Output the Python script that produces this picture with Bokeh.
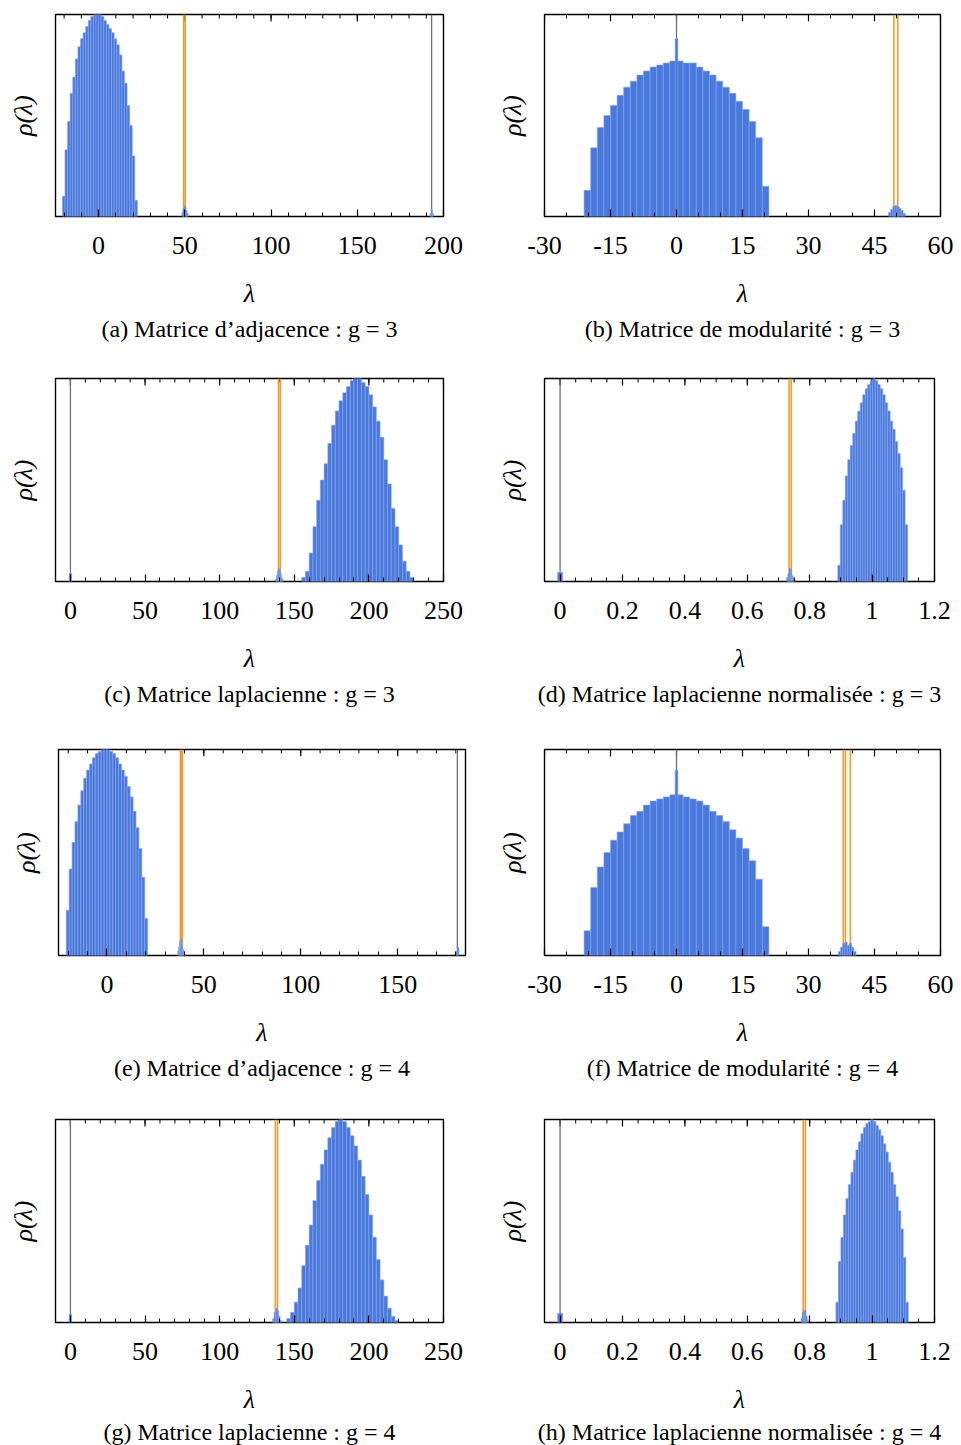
import numpy as np
from bokeh.plotting import figure
from bokeh.models import Range1d, FixedTicker, LinearAxis, Title, CustomJSTickFormatter
from bokeh.layouts import column, row
from bokeh.embed import file_html
from bokeh.resources import INLINE

# ------------------------------------------------------------------ data
# (a) adjacency, g = 3
A_CAPTION = "(a) Matrice d’adjacence : g = 3"
A_XRANGE = (-25, 200)
A_TICKS = [0, 50, 100, 150, 200]
A_BULK_RANGE = (-21.0, 22.5)
A_BULK = [0.10, 0.33, 0.47, 0.61, 0.69, 0.78, 0.84, 0.88, 0.91, 0.94, 0.97, 0.99, 1.0, 1.0, 1.0,
          0.99, 0.97, 0.95, 0.93, 0.91, 0.88, 0.85, 0.80, 0.72, 0.66, 0.55, 0.45, 0.30, 0.08]
A_BUMP_RANGE = (48.3, 51.9)
A_BUMP = [0.02, 0.04, 0.055, 0.05, 0.03, 0.015]
A_TOP_RANGE = (192.3, 194.1)
A_TOP = [0.015, 0.035, 0.015]
A_ORANGE = [49.3, 50.2]
A_GRAY = [193.1]

# (b) modularity, g = 3
B_CAPTION = "(b) Matrice de modularité : g = 3"
B_XRANGE = (-30, 60)
B_TICKS = [-30, -15, 0, 15, 30, 45, 60]
B_BULK_RANGE = (-21.0, 21.0)
B_BULK = [0.13, 0.34, 0.44, 0.50, 0.55, 0.60, 0.64, 0.67, 0.70, 0.72, 0.74, 0.75, 0.76, 0.77,
          0.77, 0.76, 0.76, 0.74, 0.72, 0.70, 0.67, 0.64, 0.61, 0.57, 0.53, 0.47, 0.39, 0.15]
B_SPIKE_RANGE = (-0.3, 0.3)
B_SPIKE = [0.88]
B_BUMP_RANGE = (48.2, 52.0)
B_BUMP = [0.02, 0.035, 0.05, 0.055, 0.05, 0.04, 0.03, 0.015]
B_ORANGE = [49.4, 50.3]
B_GRAY = [0.0]

# (c) laplacian, g = 3
C_CAPTION = "(c) Matrice laplacienne : g = 3"
C_XRANGE = (-10, 250)
C_TICKS = [0, 50, 100, 150, 200, 250]
C_BULK_RANGE = (155.0, 230.0)
C_BULK = [0.02, 0.05, 0.14, 0.27, 0.40, 0.50, 0.58, 0.68, 0.77, 0.84, 0.89, 0.93, 0.96, 0.99, 1.0,
          1.0, 0.98, 0.96, 0.92, 0.86, 0.79, 0.71, 0.60, 0.48, 0.36, 0.27, 0.18, 0.10, 0.05, 0.02]
C_BUMP_RANGE = (137.4, 142.6)
C_BUMP = [0.01, 0.03, 0.05, 0.065, 0.06, 0.04, 0.02, 0.01]
C_ZERO_RANGE = (-0.8, 0.8)
C_ZERO = [0.04]
C_ORANGE = [139.4, 140.6]
C_GRAY = [0.0]

# (d) normalised laplacian, g = 3
D_CAPTION = "(d) Matrice laplacienne normalisée : g = 3"
D_XRANGE = (-0.05, 1.2)
D_TICKS = [0, 0.2, 0.4, 0.6, 0.8, 1, 1.2]
D_BULK_RANGE = (0.890, 1.114)
D_BULK = [0.08, 0.28, 0.40, 0.52, 0.60, 0.67, 0.73, 0.79, 0.84, 0.88, 0.92, 0.95, 0.97, 0.99,
          1.0, 0.99, 0.97, 0.95, 0.92, 0.88, 0.84, 0.79, 0.75, 0.69, 0.63, 0.56, 0.45, 0.28]
D_BUMP_RANGE = (0.726, 0.754)
D_BUMP = [0.02, 0.04, 0.065, 0.06, 0.03, 0.02, 0.01]
D_ZERO_RANGE = (-0.008, 0.008)
D_ZERO = [0.045]
D_ORANGE = [0.734, 0.741]
D_GRAY = [0.0]

# (e) adjacency, g = 4
E_CAPTION = "(e) Matrice d’adjacence : g = 4"
E_XRANGE = (-25, 185)
E_TICKS = [0, 50, 100, 150]
E_BULK_RANGE = (-21.0, 21.0)
E_BULK = [0.22, 0.42, 0.55, 0.65, 0.73, 0.80, 0.86, 0.90, 0.93, 0.96, 0.98, 0.99, 1.0, 1.0,
          1.0, 0.99, 0.98, 0.96, 0.93, 0.90, 0.87, 0.82, 0.77, 0.70, 0.62, 0.52, 0.38, 0.18]
E_BUMP_RANGE = (36.5, 40.5)
E_BUMP = [0.02, 0.04, 0.07, 0.08, 0.05, 0.03, 0.02, 0.01]
E_TOP_RANGE = (180.0, 181.6)
E_TOP = [0.02, 0.04]
E_ORANGE = [37.9, 38.4, 38.9]
E_GRAY = [180.8]

# (f) modularity, g = 4
F_CAPTION = "(f) Matrice de modularité : g = 4"
F_XRANGE = (-30, 60)
F_TICKS = [-30, -15, 0, 15, 30, 45, 60]
F_BULK_RANGE = (-21.0, 21.0)
F_BULK = [0.12, 0.33, 0.43, 0.50, 0.56, 0.60, 0.64, 0.68, 0.70, 0.73, 0.75, 0.76, 0.77, 0.78,
          0.78, 0.77, 0.76, 0.75, 0.73, 0.70, 0.68, 0.65, 0.61, 0.57, 0.52, 0.46, 0.37, 0.14]
F_SPIKE_RANGE = (-0.3, 0.3)
F_SPIKE = [0.90]
F_BUMP_RANGE = (36.8, 40.8)
F_BUMP = [0.02, 0.04, 0.06, 0.065, 0.05, 0.06, 0.04, 0.02]
F_ORANGE = [37.9, 38.4, 39.5]
F_GRAY = [0.0]

# (g) laplacian, g = 4
G_CAPTION = "(g) Matrice laplacienne : g = 4"
G_XRANGE = (-10, 250)
G_TICKS = [0, 50, 100, 150, 200, 250]
G_BULK_RANGE = (145.0, 220.0)
G_BULK = [0.02, 0.05, 0.10, 0.17, 0.28, 0.38, 0.48, 0.60, 0.70, 0.78, 0.85, 0.91, 0.96, 0.99, 1.0,
          0.99, 0.96, 0.92, 0.87, 0.80, 0.72, 0.63, 0.53, 0.42, 0.31, 0.21, 0.13, 0.07, 0.03, 0.01]
G_BUMP_RANGE = (135.5, 141.5)
G_BUMP = [0.02, 0.05, 0.07, 0.06, 0.03, 0.01]
G_ZERO_RANGE = (-0.8, 0.8)
G_ZERO = [0.04]
G_ORANGE = [137.3, 138.8]
G_GRAY = [0.0]

# (h) normalised laplacian, g = 4
H_CAPTION = "(h) Matrice laplacienne normalisée : g = 4"
H_XRANGE = (-0.05, 1.2)
H_TICKS = [0, 0.2, 0.4, 0.6, 0.8, 1, 1.2]
H_BULK_RANGE = (0.884, 1.116)
H_BULK = [0.10, 0.30, 0.42, 0.53, 0.61, 0.68, 0.74, 0.80, 0.85, 0.89, 0.93, 0.96, 0.98, 0.99, 1.0,
          0.99, 0.97, 0.95, 0.92, 0.88, 0.84, 0.79, 0.74, 0.68, 0.62, 0.55, 0.46, 0.32, 0.10]
H_BUMP_RANGE = (0.772, 0.796)
H_BUMP = [0.02, 0.05, 0.06, 0.06, 0.03, 0.01]
H_ZERO_RANGE = (-0.008, 0.008)
H_ZERO = [0.045]
H_ORANGE = [0.779, 0.786]
H_GRAY = [0.0]

A_MINOR_STEP, B_MINOR_STEP, C_MINOR_STEP, D_MINOR_STEP = 10, 5, 10, 0.05
E_MINOR_STEP, F_MINOR_STEP, G_MINOR_STEP, H_MINOR_STEP = 10, 5, 10, 0.05

# ------------------------------------------------------------------ style
SERIF = "Liberation Serif"
BAR_FILL = "#4a79dd"
BAR_LINE = "#86a4e8"
ORANGE = "#f29b30"
GRAY = "#707070"
MAJOR_LEN = 7
MINOR_LEN = 4


def hist(rng, heights):
    edges = np.linspace(rng[0], rng[1], len(heights) + 1)
    return dict(left=edges[:-1], right=edges[1:], top=list(heights), bottom=[0] * len(heights))


def panel(caption, xr, ticks, step, hists, orange, gray, w, h, bl, br, bt, bb, cap_standoff=6):
    p = figure(width=w, height=h, x_range=Range1d(*xr), y_range=Range1d(0, 1),
               output_backend="svg", toolbar_location=None,
               x_axis_location=None, y_axis_location=None,
               min_border_left=bl, min_border_right=br, min_border_top=bt, min_border_bottom=bb)
    p.xgrid.visible = False
    p.ygrid.visible = False
    p.outline_line_color = "black"
    p.outline_line_width = 1.4
    p.background_fill_color = "white"
    p.border_fill_color = "white"
    frame_h = h - bt - bb

    k0 = int(np.ceil(xr[0] / step - 1e-9))
    k1 = int(np.floor(xr[1] / step + 1e-9))
    minor = [round(k * step, 6) for k in range(k0, k1 + 1)]

    ax = LinearAxis(ticker=FixedTicker(ticks=ticks, minor_ticks=minor))
    ax.axis_line_color = None
    ax.major_tick_in = MAJOR_LEN
    ax.major_tick_out = 0
    ax.minor_tick_in = MINOR_LEN
    ax.minor_tick_out = 0
    ax.major_tick_line_color = "black"
    ax.minor_tick_line_color = "black"
    ax.major_tick_line_width = 1.2
    ax.minor_tick_line_width = 1.0
    ax.formatter = CustomJSTickFormatter(code="return String(tick)")
    ax.major_label_text_font = SERIF
    ax.major_label_text_font_size = "26px"
    ax.major_label_text_color = "black"
    ax.major_label_standoff = 20
    ax.axis_label = "λ"
    ax.axis_label_text_font = SERIF
    ax.axis_label_text_font_style = "italic"
    ax.axis_label_text_font_size = "26px"
    ax.axis_label_text_color = "black"
    ax.axis_label_standoff = 22
    p.add_layout(ax, "below")

    yax = LinearAxis(ticker=FixedTicker(ticks=[]))
    yax.axis_line_color = None
    yax.major_tick_in = 0
    yax.major_tick_out = 0
    yax.minor_tick_in = 0
    yax.minor_tick_out = 0
    yax.major_label_standoff = 0
    yax.axis_label = "ρ(λ)"
    yax.axis_label_text_font = SERIF
    yax.axis_label_text_font_style = "italic"
    yax.axis_label_text_font_size = "26px"
    yax.axis_label_text_color = "black"
    yax.axis_label_standoff = 18
    p.add_layout(yax, "left")

    # mirrored ticks along the top edge of the frame
    p.segment(x0=minor, x1=minor, y0=[1] * len(minor), y1=[1 - MINOR_LEN / frame_h] * len(minor),
              line_color="black", line_width=1.0)
    p.segment(x0=ticks, x1=ticks, y0=[1] * len(ticks), y1=[1 - MAJOR_LEN / frame_h] * len(ticks),
              line_color="black", line_width=1.2)

    p.segment(x0=gray, x1=gray, y0=[0] * len(gray), y1=[1] * len(gray),
              line_color=GRAY, line_width=1.3)
    p.segment(x0=orange, x1=orange, y0=[0] * len(orange), y1=[1] * len(orange),
              line_color=ORANGE, line_width=1.6)
    for rng, hts in hists:
        d = hist(rng, hts)
        p.quad(left=d["left"], right=d["right"], top=d["top"], bottom=d["bottom"],
               fill_color=BAR_FILL, line_color=BAR_LINE, line_width=0.6)

    t = Title(text=caption, align="center", text_font=SERIF, text_font_size="24px",
              text_font_style="normal", text_color="black", standoff=cap_standoff)
    p.add_layout(t, "below")
    return p


pa = panel(A_CAPTION, A_XRANGE, A_TICKS, A_MINOR_STEP,
           [(A_BULK_RANGE, A_BULK), (A_BUMP_RANGE, A_BUMP), (A_TOP_RANGE, A_TOP)],
           A_ORANGE, A_GRAY, 480, 364, 55, 37, 14, 147)
pb = panel(B_CAPTION, B_XRANGE, B_TICKS, B_MINOR_STEP,
           [(B_BULK_RANGE, B_BULK), (B_SPIKE_RANGE, B_SPIKE), (B_BUMP_RANGE, B_BUMP)],
           B_ORANGE, B_GRAY, 481, 364, 64, 21, 8, 148)
pc = panel(C_CAPTION, C_XRANGE, C_TICKS, C_MINOR_STEP,
           [(C_BULK_RANGE, C_BULK), (C_BUMP_RANGE, C_BUMP), (C_ZERO_RANGE, C_ZERO)],
           C_ORANGE, C_GRAY, 480, 364, 55, 37, 14, 146)
pd_ = panel(D_CAPTION, D_XRANGE, D_TICKS, D_MINOR_STEP,
            [(D_BULK_RANGE, D_BULK), (D_BUMP_RANGE, D_BUMP), (D_ZERO_RANGE, D_ZERO)],
            D_ORANGE, D_GRAY, 481, 364, 64, 27, 13, 147)
pe = panel(E_CAPTION, E_XRANGE, E_TICKS, E_MINOR_STEP,
           [(E_BULK_RANGE, E_BULK), (E_BUMP_RANGE, E_BUMP), (E_TOP_RANGE, E_TOP)],
           E_ORANGE, E_GRAY, 480, 372, 58, 15, 13, 145)
pf = panel(F_CAPTION, F_XRANGE, F_TICKS, F_MINOR_STEP,
           [(F_BULK_RANGE, F_BULK), (F_SPIKE_RANGE, F_SPIKE), (F_BUMP_RANGE, F_BUMP)],
           F_ORANGE, F_GRAY, 481, 372, 64, 21, 21, 143)
pg = panel(G_CAPTION, G_XRANGE, G_TICKS, G_MINOR_STEP,
           [(G_BULK_RANGE, G_BULK), (G_BUMP_RANGE, G_BUMP), (G_ZERO_RANGE, G_ZERO)],
           G_ORANGE, G_GRAY, 480, 345, 55, 37, 19, 123, cap_standoff=1)
ph = panel(H_CAPTION, H_XRANGE, H_TICKS, H_MINOR_STEP,
           [(H_BULK_RANGE, H_BULK), (H_BUMP_RANGE, H_BUMP), (H_ZERO_RANGE, H_ZERO)],
           H_ORANGE, H_GRAY, 481, 345, 64, 27, 19, 123, cap_standoff=1)

layout = column(row(pa, pb, spacing=0), row(pc, pd_, spacing=0),
                row(pe, pf, spacing=0), row(pg, ph, spacing=0), spacing=0)

open("out.html", "w").write(file_html(layout, INLINE))
